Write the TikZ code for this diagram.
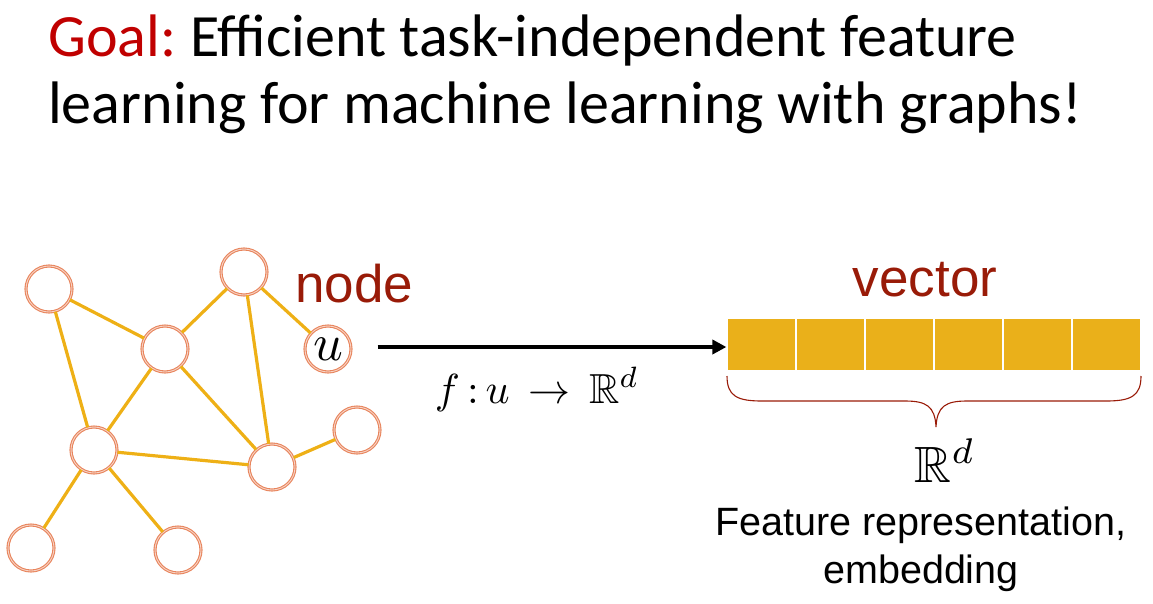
\documentclass[tikz,border=0pt]{standalone}
\usepackage{amsmath,amssymb}
\usepackage{graphicx}
\usepackage{fontspec}
\setmainfont{Liberation Sans}
\newfontfamily\calibri{Carlito}
\usetikzlibrary{arrows.meta}
\definecolor{goalred}{RGB}{192,0,0}
\definecolor{darkred}{RGB}{153,27,8}
\definecolor{ringor}{RGB}{232,132,92}
\definecolor{edgegold}{RGB}{238,176,22}
\definecolor{cellgold}{RGB}{234,176,26}
\tikzset{
  gnode/.style={circle, minimum size=46pt, inner sep=0pt, draw=ringor, line width=1.1pt, double=ringor!35, double distance=0.9pt},
  gedge/.style={draw=edgegold, line width=3.2pt},
  cell/.style={rectangle, fill=cellgold, draw=white, line width=1.2pt, minimum width=69pt, minimum height=53pt, inner sep=0pt},
  lbl/.style={inner sep=0pt, anchor=base},
}
\begin{document}
\begin{tikzpicture}[x=1pt,y=-1pt]
\useasboundingbox (0,0) rectangle (1153,603);
% title
\node[lbl, anchor=base west] (t1) at (48,56) {\calibri\fontsize{60}{68}\selectfont\textcolor{goalred}{Goal:}\hspace{-4pt} Efficient task-independent feature};
\node[lbl, anchor=base west] (t2) at (48,123) {\calibri\fontsize{60}{68}\selectfont learning for machine learning with graphs!};
% graph nodes
\node[gnode] (A) at (49,289) {};
\node[gnode] (B) at (244,272) {};
\node[gnode] (C) at (165,349) {};
\node[gnode] (U) at (328,349) {\raisebox{-2pt}{\scalebox{5.2}{$u$}}};
\node[gnode] (D) at (94,450) {};
\node[gnode] (E) at (272,467) {};
\node[gnode] (F) at (357,430) {};
\node[gnode] (G) at (31,548) {};
\node[gnode] (H) at (178,550) {};
\foreach \a/\b in {A/C,A/D,C/B,B/U,B/E,C/D,C/E,D/E,E/F,D/G,D/H}
  \draw[gedge] (\a) -- (\b);
% labels
\node[lbl, anchor=base west, text=darkred] (nodelbl) at (295,302) {\fontsize{53}{56}\selectfont node};
% vector
\foreach \i in {1,...,6}
  \node[cell] (v\i) at ({727+69*(\i-1)+34.5},344.5) {};
\node[lbl, text=darkred] (veclbl) at (925,296) {\fontsize{53}{56}\selectfont vector};
% arrow
\draw[line width=3.5pt, -{Triangle[length=14pt,width=14pt]}] ([xshift=26pt]U.east |- 0,347) -- (v1.west |- 0,347);
\node[lbl] (flbl) at (537,403) {\scalebox{4.2}{$f\,{:}\,u\,\rightarrow\,\mathbb{R}^{d}$}};
% brace
\draw[darkred, line width=1.1pt] (727,376) .. controls (727,396) and (737,401) .. (762,401) -- (905,401) .. controls (926,401) and (935,406) .. (936,427)
  .. controls (937,406) and (946,401) .. (967,401) -- (1106,401) .. controls (1131,401) and (1141,396) .. (1141,376);
\node[lbl] (rd) at (945,482) {\scalebox{5.1}{$\mathbb{R}^{d}$}};
\node[lbl] (feat) at (921,535) {\fontsize{39.5}{42}\selectfont Feature representation,};
\node[lbl] (emb) at (921,583) {\fontsize{39.5}{42}\selectfont embedding};
\end{tikzpicture}
\end{document}
